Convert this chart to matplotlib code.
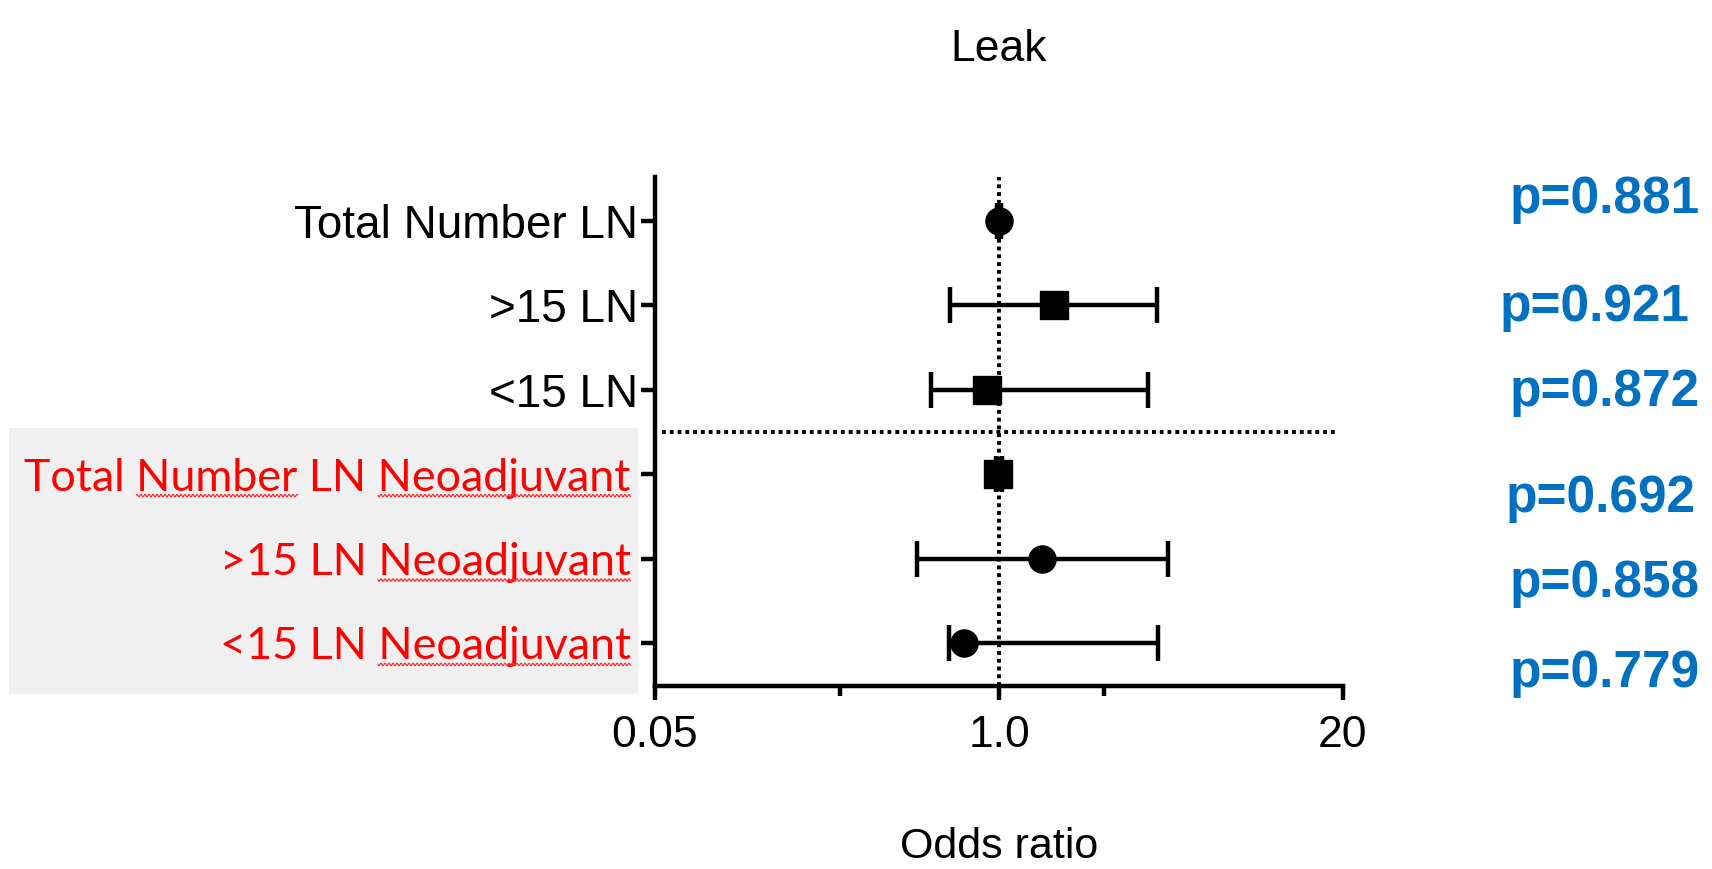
import numpy as np
import matplotlib
matplotlib.use("Agg")
import matplotlib.pyplot as plt
from matplotlib.patches import Rectangle
from matplotlib.lines import Line2D
from matplotlib.transforms import IdentityTransform
from matplotlib.ticker import NullFormatter

# ---------------- data ----------------
labels = ["Total Number LN", ">15 LN", "<15 LN",
          "Total Number LN Neoadjuvant", ">15 LN Neoadjuvant", "<15 LN Neoadjuvant"]
label_colors = ["black", "black", "black", "red", "red", "red"]
odds = [1.0, 1.62, 0.90, 0.99, 1.45, 0.74]
ci_low = [0.985, 0.654, 0.552, 0.975, 0.489, 0.649]
ci_high = [1.015, 3.95, 3.66, 1.025, 4.34, 3.99]
markers = ["o", "s", "s", "s", "o", "o"]
p_texts = ["p=0.881", "p=0.921", "p=0.872", "p=0.692", "p=0.858", "p=0.779"]
x_ticks = [0.05, 1.0, 20]
x_tick_labels = ["0.05", "1.0", "20"]
x_minor_ticks = [0.25, 2.5]
title = "Leak"
xlabel = "Odds ratio"

# ---------------- layout ----------------
W, H = 1712, 869
fig = plt.figure(figsize=(W / 100, H / 100), dpi=100)
fig.patch.set_facecolor("white")

ax_l, ax_r, ax_t, ax_b = 655, 1343, 177, 686
ax = fig.add_axes([ax_l / W, (H - ax_b) / H, (ax_r - ax_l) / W, (ax_b - ax_t) / H])
ax.patch.set_alpha(0)

# gray box behind the red labels
fig.add_artist(Rectangle((9 / W, (H - 694) / H), (638 - 9) / W, (694 - 428) / H,
                         transform=fig.transFigure, facecolor="#f0f0f0",
                         edgecolor="none", zorder=-5))

ax.set_xscale("log")
ax.set_xlim(0.05, 20)
ypos = np.arange(1, len(labels) + 1)
ax.set_ylim(len(labels) + 0.51, 0.48)

for i in range(len(labels)):
    ax.errorbar(odds[i], ypos[i],
                xerr=[[odds[i] - ci_low[i]], [ci_high[i] - odds[i]]],
                fmt=markers[i], color="black", ms=19.5, elinewidth=3.2,
                capsize=13, capthick=3.2, zorder=4)

ax.axvline(1.0, color="black", ls=(0, (1, 1)), lw=2.8, zorder=3)
ax.axhline(3.5, xmin=0.01, xmax=0.99, color="black", ls=(0, (1, 1)), lw=2.8, zorder=3)

for s in ["top", "right"]:
    ax.spines[s].set_visible(False)
for s in ["left", "bottom"]:
    ax.spines[s].set_linewidth(3.2)

ax.set_xticks(x_ticks)
ax.set_xticklabels(x_tick_labels)
ax.set_xticks(x_minor_ticks, minor=True)
ax.xaxis.set_minor_formatter(NullFormatter())
ax.tick_params(axis="x", which="major", length=10, width=3.2, labelsize=32, pad=11)
ax.tick_params(axis="x", which="minor", length=7, width=3.2)
ax.tick_params(axis="y", which="major", length=10, width=3.2, pad=2.5)
for t in ax.get_xticklabels():
    t.set_family("Liberation Sans")

ax.set_yticks(ypos)
ax.set_yticklabels(labels)
for tick, t, c in zip(ax.yaxis.get_major_ticks(), ax.get_yticklabels(), label_colors):
    t.set_color(c)
    if c == "black":
        t.set_family("Liberation Sans")
        t.set_fontsize(33)
    else:
        t.set_family("Lato")
        t.set_fontsize(32.3)
        tick.set_pad(7.5)

ax.set_xlabel(xlabel, fontsize=31, family="Liberation Sans", labelpad=51)
ax.text(0.5, (ax_b - 50) / (ax_b - ax_t), title, transform=ax.transAxes,
        ha="center", va="center", fontsize=32, family="Liberation Sans")

# p-values
p_right = [1700, 1689, 1700, 1696, 1700, 1700]
p_base = [213, 321, 406, 512, 597, 687]
for txt, xr, yb in zip(p_texts, p_right, p_base):
    fig.text(xr / W, 1 - yb / H, txt, ha="right", va="baseline", color="#0070C0",
             fontsize=37, fontweight="bold", family="Liberation Sans")

# spell-check squiggles under red labels
fig.canvas.draw()
r = fig.canvas.get_renderer()


def squiggle(x0, x1, yb):
    xs = np.arange(x0, x1, 0.5)
    ys = yb + 1.2 * np.sin(2 * np.pi * xs / 4.0)
    fig.add_artist(Line2D(xs, ys, transform=IdentityTransform(), color="#ff3030",
                          lw=0.9, zorder=5))


for t, c in zip(ax.get_yticklabels(), label_colors):
    if c != "red":
        continue
    full = t.get_text()
    prop = t.get_fontproperties()
    bb = t.get_window_extent(r)
    wfull = r.get_text_width_height_descent(full, prop, ismath=False)[0]
    wneo = r.get_text_width_height_descent("Neoadjuvant", prop, ismath=False)[0]
    ybase = bb.y0 + 3
    squiggle(bb.x1 - wneo, bb.x1, ybase)
    if "Number" in full:
        i0 = full.index("Number")
        wend = r.get_text_width_height_descent(full[:i0 + 6], prop, ismath=False)[0]
        wnum = r.get_text_width_height_descent("Number", prop, ismath=False)[0]
        x_end = bb.x0 + wend * (bb.width / wfull)
        squiggle(x_end - wnum, x_end, ybase)

fig.savefig("out.png", dpi=100)
